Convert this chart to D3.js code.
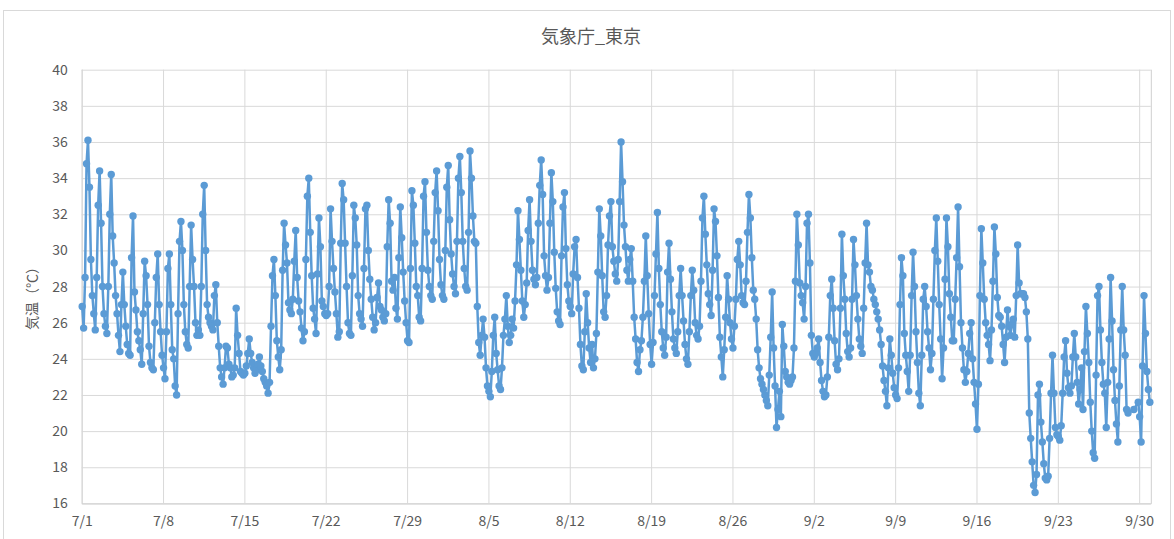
<!DOCTYPE html>
<html>
<head>
<meta charset="utf-8">
<script src="https://cdn.jsdelivr.net/npm/d3@7"></script>
<style>
  body { margin: 0; background: #fff; }
  svg { display: block; }
</style>
</head>
<body>
<svg id="chart" width="1174" height="539"></svg>
<script>
// hours of the day that each reading belongs to
const slotHours = [1, 4, 7, 10, 13, 16, 19, 22];

// 気温 (℃), one row per day, one value per slot hour
const julyTemps = [
  [26.9, 25.7, 28.5, 34.8, 36.1, 33.5, 29.5, 27.5],
  [26.5, 25.6, 28.5, 32.5, 34.4, 31.5, 28.0, 26.5],
  [25.8, 25.4, 28.0, 32.0, 34.2, 30.8, 29.3, 27.5],
  [26.5, 25.3, 24.4, 27.0, 28.8, 27.0, 25.8, 24.8],
  [24.3, 24.2, 29.6, 31.9, 27.7, 26.7, 25.5, 25.0],
  [24.5, 23.7, 26.5, 29.4, 28.6, 27.0, 24.7, 23.8],
  [23.5, 23.4, 26.0, 28.5, 29.8, 27.0, 25.5, 24.2],
  [23.5, 22.9, 25.5, 29.0, 29.8, 27.0, 24.5, 24.0],
  [22.5, 22.0, 26.5, 30.5, 31.6, 30.0, 27.0, 25.5],
  [24.8, 24.6, 28.0, 31.4, 29.5, 28.0, 26.0, 25.3],
  [25.6, 25.3, 28.0, 32.0, 33.6, 30.0, 27.0, 26.3],
  [26.0, 25.8, 25.6, 27.5, 28.1, 26.0, 24.7, 23.5],
  [23.0, 22.6, 23.5, 24.7, 24.6, 23.7, 23.5, 23.0],
  [23.1, 23.5, 26.8, 25.3, 24.3, 23.3, 23.2, 23.1],
  [23.2, 23.6, 24.3, 25.1, 24.3, 23.8, 23.5, 23.2],
  [23.4, 23.7, 24.1, 23.6, 23.3, 22.9, 22.7, 22.5],
  [22.1, 22.7, 25.8, 28.6, 29.5, 27.5, 25.0, 24.1],
  [23.4, 24.5, 28.9, 31.5, 30.3, 29.3, 27.1, 26.7],
  [26.5, 27.3, 29.4, 31.1, 28.5, 27.2, 26.6, 25.7],
  [25.0, 25.5, 29.5, 33.0, 34.0, 31.0, 28.6, 26.8],
  [26.2, 25.4, 28.7, 31.8, 30.2, 27.2, 26.9, 26.5],
  [26.4, 26.5, 28.0, 32.3, 30.5, 29.0, 27.7, 26.5],
  [25.2, 25.5, 30.4, 33.7, 32.8, 30.4, 28.0, 26.0],
  [25.4, 25.3, 28.6, 32.5, 31.8, 30.3, 27.5, 26.5],
  [26.2, 25.8, 29.0, 32.3, 32.5, 30.0, 28.4, 27.3],
  [26.3, 25.6, 26.0, 27.4, 28.2, 26.9, 26.7, 26.3],
  [26.1, 26.5, 30.2, 32.8, 31.5, 28.3, 27.8, 28.5],
  [26.8, 26.2, 29.6, 32.4, 30.7, 28.8, 27.2, 26.0],
  [25.0, 24.9, 29.0, 33.3, 32.5, 30.4, 28.0, 27.5],
  [26.3, 26.1, 29.0, 33.0, 33.8, 31.0, 28.9, 28.0],
  [27.5, 27.3, 30.5, 33.2, 34.4, 32.2, 29.5, 28.1]
];

const augustTemps = [
  [27.5, 27.3, 30.0, 33.5, 34.7, 31.7, 29.8, 28.7],
  [28.0, 27.6, 30.5, 34.0, 35.2, 33.2, 30.5, 29.0],
  [28.0, 27.8, 31.0, 35.5, 34.0, 31.9, 30.5, 30.4],
  [26.9, 24.9, 24.2, 25.3, 26.2, 25.2, 23.5, 22.5],
  [22.2, 21.9, 23.3, 25.3, 26.3, 24.3, 23.4, 22.5],
  [22.3, 23.5, 25.3, 26.2, 27.5, 25.8, 24.9, 25.3],
  [26.2, 25.7, 27.2, 29.2, 32.2, 30.6, 28.9, 27.2],
  [26.3, 27.0, 28.2, 31.1, 32.8, 30.5, 28.9, 28.4],
  [28.1, 28.5, 31.5, 33.6, 35.0, 33.1, 29.7, 28.6],
  [27.8, 28.5, 31.5, 34.3, 32.7, 29.9, 27.9, 26.6],
  [26.1, 25.9, 29.7, 32.4, 33.2, 30.1, 28.1, 27.2],
  [26.9, 26.5, 28.7, 30.2, 30.6, 28.5, 26.8, 24.8],
  [23.6, 23.4, 25.5, 27.6, 26.0, 24.6, 23.8, 24.8],
  [23.5, 24.0, 25.4, 28.8, 32.3, 30.8, 28.6, 26.6],
  [26.3, 27.5, 30.3, 31.9, 32.7, 30.2, 29.4, 28.7],
  [28.3, 29.5, 32.7, 36.0, 33.8, 31.4, 30.2, 28.9],
  [28.3, 29.5, 30.1, 28.3, 26.3, 25.1, 23.8, 23.3],
  [24.5, 25.0, 26.3, 28.3, 30.8, 28.6, 26.5, 24.8],
  [23.7, 24.9, 27.5, 29.8, 32.1, 29.0, 27.0, 25.5],
  [24.6, 24.2, 25.2, 28.8, 30.4, 28.4, 26.6, 25.1],
  [24.6, 24.3, 25.5, 27.5, 29.0, 27.5, 26.1, 24.8],
  [24.0, 23.7, 25.5, 27.5, 28.9, 27.8, 26.0, 25.3],
  [25.1, 25.8, 28.3, 31.8, 33.0, 30.9, 29.2, 27.6],
  [27.0, 26.4, 28.9, 32.3, 31.6, 29.7, 27.4, 25.2],
  [24.1, 23.0, 24.5, 26.3, 28.6, 27.3, 26.0, 25.1],
  [24.6, 25.8, 27.3, 29.5, 30.5, 29.2, 27.5, 27.1],
  [27.0, 28.3, 31.0, 33.1, 31.8, 29.6, 27.8, 27.3],
  [26.2, 24.5, 23.5, 22.9, 22.6, 22.3, 22.0, 21.7],
  [21.4, 23.1, 25.2, 27.7, 24.6, 22.5, 20.2, 21.2],
  [22.2, 20.8, 25.9, 24.7, 23.3, 23.0, 22.7, 22.6],
  [22.8, 23.0, 24.6, 28.3, 32.0, 30.3, 28.2, 27.5]
];

const septemberTemps = [
  [27.1, 26.2, 28.0, 31.5, 32.0, 29.3, 25.3, 24.3],
  [24.1, 24.3, 24.6, 25.1, 23.8, 22.8, 22.2, 21.9],
  [22.0, 23.0, 25.2, 27.5, 28.4, 26.8, 25.0, 23.7],
  [23.4, 24.0, 26.8, 30.9, 28.6, 27.3, 25.4, 24.4],
  [24.1, 24.6, 27.3, 30.6, 29.2, 27.5, 26.2, 25.1],
  [24.7, 24.3, 26.8, 29.3, 31.5, 29.2, 28.8, 28.0],
  [27.8, 27.3, 27.0, 26.6, 26.2, 25.6, 24.8, 23.6],
  [22.8, 22.2, 21.4, 23.5, 25.1, 24.2, 23.2, 22.4],
  [22.0, 21.8, 23.5, 27.0, 29.6, 28.6, 25.4, 24.2],
  [23.3, 22.2, 24.2, 27.5, 29.9, 28.0, 25.5, 23.8],
  [22.1, 21.4, 24.2, 27.3, 28.0, 26.9, 25.5, 24.6],
  [23.4, 24.3, 27.3, 30.0, 31.8, 29.4, 27.0, 25.1],
  [22.9, 24.6, 28.4, 31.8, 30.2, 27.6, 26.3, 25.0],
  [25.0, 27.3, 29.6, 32.4, 29.1, 26.0, 24.6, 23.4],
  [22.7, 23.3, 24.3, 25.4, 26.0, 24.0, 22.7, 21.5],
  [20.1, 22.6, 27.5, 31.2, 29.3, 27.3, 26.0, 25.3],
  [24.8, 23.9, 25.6, 28.3, 31.3, 29.8, 27.4, 26.4],
  [26.3, 25.8, 24.8, 23.8, 25.2, 26.7, 25.8, 25.3],
  [25.9, 26.2, 25.2, 27.5, 30.3, 28.2, 27.6, 27.6],
  [27.6, 27.4, 26.6, 25.1, 21.0, 19.6, 18.3, 17.0],
  [16.6, 17.6, 22.0, 22.6, 20.5, 19.4, 18.2, 17.4],
  [17.3, 17.5, 19.6, 22.1, 24.2, 22.1, 20.2, 19.8],
  [19.7, 19.5, 20.3, 22.1, 24.1, 25.0, 23.2, 22.4],
  [22.1, 22.5, 24.1, 25.4, 24.1, 22.7, 21.5, 22.3],
  [23.5, 21.2, 24.4, 26.9, 25.4, 23.8, 21.6, 20.0],
  [18.8, 18.5, 23.1, 27.5, 28.0, 25.6, 23.8, 22.6],
  [22.1, 20.2, 22.7, 25.1, 28.5, 26.1, 23.4, 21.7],
  [20.4, 19.4, 22.5, 25.6, 28.0, 25.6, 24.2, 21.2],
  [21.0, null, null, null, 21.2, null, null, 21.6],
  [20.8, 19.4, 23.6, 27.5, 25.4, 23.3, 22.3, 21.6]
];

const tickLabels = ["7/1", "7/8", "7/15", "7/22", "7/29", "8/5", "8/12",
  "8/19", "8/26", "9/2", "9/9", "9/16", "9/23", "9/30"];
const yTicks = [16, 18, 20, 22, 24, 26, 28, 30, 32, 34, 36, 38, 40];

const YEAR = 2022;
const textColor = "#595959";
const gridColor = "#d9d9d9";
const lineColor = "#5b9bd5";
const font = "'Noto Sans CJK JP', 'Noto Sans', sans-serif";

const svg = d3.select("#chart");
const width = +svg.attr("width");
const height = +svg.attr("height");
const margin = { top: 69.7, right: width - 1150.8, bottom: height - 503.4, left: 81.7 };

// flatten month tables into timestamped readings
const readings = [];
[[6, julyTemps], [7, augustTemps], [8, septemberTemps]].forEach(([month, rows]) => {
  rows.forEach((row, i) => {
    row.forEach((v, k) => {
      if (v !== null) readings.push({ t: new Date(YEAR, month, i + 1, slotHours[k]), v });
    });
  });
});

const x = d3.scaleTime()
  .domain([new Date(YEAR, 6, 1), new Date(YEAR, 9, 1)])
  .range([margin.left, width - margin.right]);

const y = d3.scaleLinear()
  .domain([16, 40])
  .range([height - margin.bottom, margin.top]);

const tickDates = tickLabels.map((s) => {
  const [m, d] = s.split("/").map(Number);
  return new Date(YEAR, m - 1, d);
});

// outer frame
svg.append("rect")
  .attr("x", 3.5).attr("y", 10.5)
  .attr("width", width - 7).attr("height", height)
  .attr("fill", "#fff")
  .attr("stroke", gridColor);

// horizontal grid + y labels
const yAxis = (g) =>
  g.attr("transform", `translate(${ margin.left },0)`)
    .call(d3.axisLeft(y).tickValues(yTicks).tickSize(-(width - margin.left - margin.right)).tickPadding(14))
    .call((g) => g.select(".domain").remove())
    .call((g) => g.selectAll(".tick line").attr("stroke", gridColor))
    .call((g) => g.selectAll(".tick text")
      .attr("fill", textColor)
      .attr("font-size", 14)
      .attr("font-family", font));

// vertical grid + x labels
const xAxis = (g) =>
  g.attr("transform", `translate(0,${ height - margin.bottom })`)
    .call(d3.axisBottom(x).tickValues(tickDates)
      .tickFormat((d, i) => tickLabels[i])
      .tickSize(-(height - margin.top - margin.bottom)).tickPadding(13))
    .call((g) => g.select(".domain").attr("stroke", "#cfcfcf"))
    .call((g) => g.selectAll(".tick line").attr("stroke", gridColor))
    .call((g) => g.selectAll(".tick text")
      .attr("fill", textColor)
      .attr("font-size", 14)
      .attr("font-family", font));

svg.append("g").call(yAxis);
svg.append("g").call(xAxis);

// series
const line = d3.line()
  .x((d) => x(d.t))
  .y((d) => y(d.v));

svg.append("path")
  .datum(readings)
  .attr("fill", "none")
  .attr("stroke", lineColor)
  .attr("stroke-width", 2.5)
  .attr("stroke-linejoin", "round")
  .attr("d", line);

svg.append("g")
  .selectAll("circle")
  .data(readings)
  .join("circle")
  .attr("cx", (d) => x(d.t))
  .attr("cy", (d) => y(d.v))
  .attr("r", 3.7)
  .attr("fill", lineColor);

// title
svg.append("text")
  .attr("x", 591)
  .attr("y", 43)
  .attr("text-anchor", "middle")
  .attr("fill", textColor)
  .attr("font-size", 18)
  .attr("font-family", font)
  .text("気象庁_東京");

// y axis title
svg.append("text")
  .attr("transform", "translate(37,295) rotate(-90)")
  .attr("text-anchor", "middle")
  .attr("fill", textColor)
  .attr("font-size", 14)
  .attr("font-family", font)
  .text("気温（℃）");
</script>
</body>
</html>
